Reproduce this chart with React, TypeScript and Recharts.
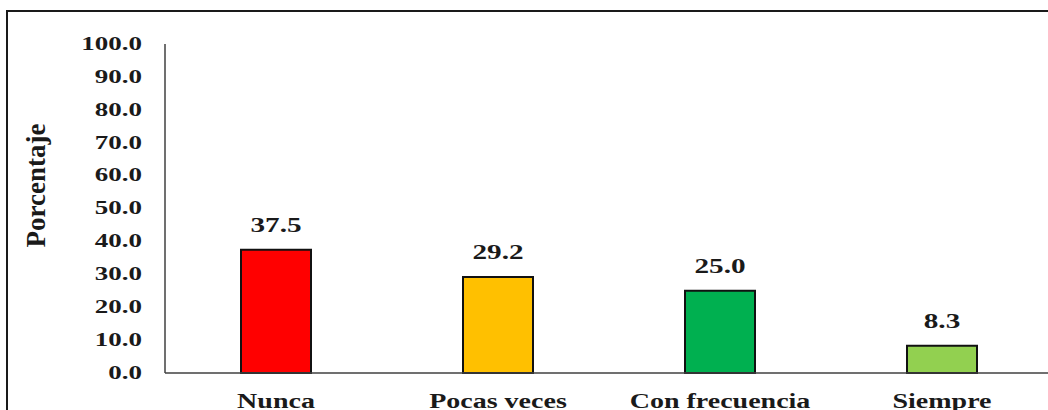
import React from 'react';
import { BarChart, Bar, XAxis, YAxis, Cell, LabelList } from 'recharts';

const categories = ['Nunca', 'Pocas veces', 'Con frecuencia', 'Siempre'];
const percentages = [37.5, 29.2, 25.0, 8.3];
const barColors = ['#FF0000', '#FFC000', '#00B050', '#92D050'];
const yTicks = [0, 10, 20, 30, 40, 50, 60, 70, 80, 90, 100];
const axisTitle = 'Porcentaje';

const data = categories.map((name, i) => ({ name, value: percentages[i] }));

const FONT = '"Liberation Serif", "Times New Roman", serif';
const INK = '#1a1a1a';

const YTick = (props: any) => {
  const { x, y, payload } = props;
  return (
    <text
      transform={`translate(${x},${y}) scale(1.5,1)`}
      textAnchor="end"
      dominantBaseline="central"
      fontFamily={FONT}
      fontWeight="bold"
      fontSize={18}
      fill={INK}
    >
      {Number(payload.value).toFixed(1)}
    </text>
  );
};

const XTick = (props: any) => {
  const { x, y, payload } = props;
  return (
    <text
      transform={`translate(${x},${y + 27}) scale(1.4,1)`}
      textAnchor="middle"
      fontFamily={FONT}
      fontWeight="bold"
      fontSize={20}
      fill={INK}
    >
      {payload.value}
    </text>
  );
};

const ValueLabel = (props: any) => {
  const { x, y, width, value } = props;
  return (
    <text
      transform={`translate(${x + width / 2},${y - 18}) scale(1.46,1)`}
      textAnchor="middle"
      fontFamily={FONT}
      fontWeight="bold"
      fontSize={20}
      fill={INK}
    >
      {Number(value).toFixed(1)}
    </text>
  );
};

const AxisTitle = (props: any) => {
  const { viewBox } = props;
  const cx = viewBox.x + 36;
  const cy = viewBox.y + viewBox.height / 2 - 23;
  return (
    <text
      transform={`translate(${cx},${cy}) rotate(-90)`}
      textAnchor="middle"
      dominantBaseline="central"
      fontFamily={FONT}
      fontWeight="bold"
      fontSize={27}
      fill={INK}
    >
      {axisTitle}
    </text>
  );
};

export default function App() {
  return (
    <div
      style={{
        position: 'absolute',
        left: 0,
        top: 0,
        width: 1048,
        height: 410,
        overflow: 'hidden',
        background: '#ffffff',
      }}
    >
      <div
        style={{
          position: 'absolute',
          left: 6,
          top: 10,
          width: 1100,
          height: 440,
          border: `2px solid ${INK}`,
          boxSizing: 'border-box',
        }}
      />
      <div style={{ position: 'absolute', left: 0, top: 0 }}>
        <BarChart
          width={1100}
          height={410}
          data={data}
          margin={{ top: 44, right: 47, bottom: 0, left: 0 }}
        >
          <XAxis
            dataKey="name"
            height={37}
            tickLine={false}
            axisLine={{ stroke: '#404040', strokeWidth: 1.5 }}
            tick={<XTick />}
            interval={0}
          />
          <YAxis
            width={165}
            domain={[0, 100]}
            ticks={yTicks}
            tickLine={false}
            tickSize={0}
            tickMargin={23}
            axisLine={{ stroke: '#404040', strokeWidth: 1.5 }}
            tick={<YTick />}
            label={<AxisTitle />}
          />
          <Bar dataKey="value" barSize={70} stroke="#111111" strokeWidth={2} isAnimationActive={false}>
            {data.map((d, i) => (
              <Cell key={d.name} fill={barColors[i]} />
            ))}
            <LabelList dataKey="value" content={<ValueLabel />} />
          </Bar>
        </BarChart>
      </div>
    </div>
  );
}
